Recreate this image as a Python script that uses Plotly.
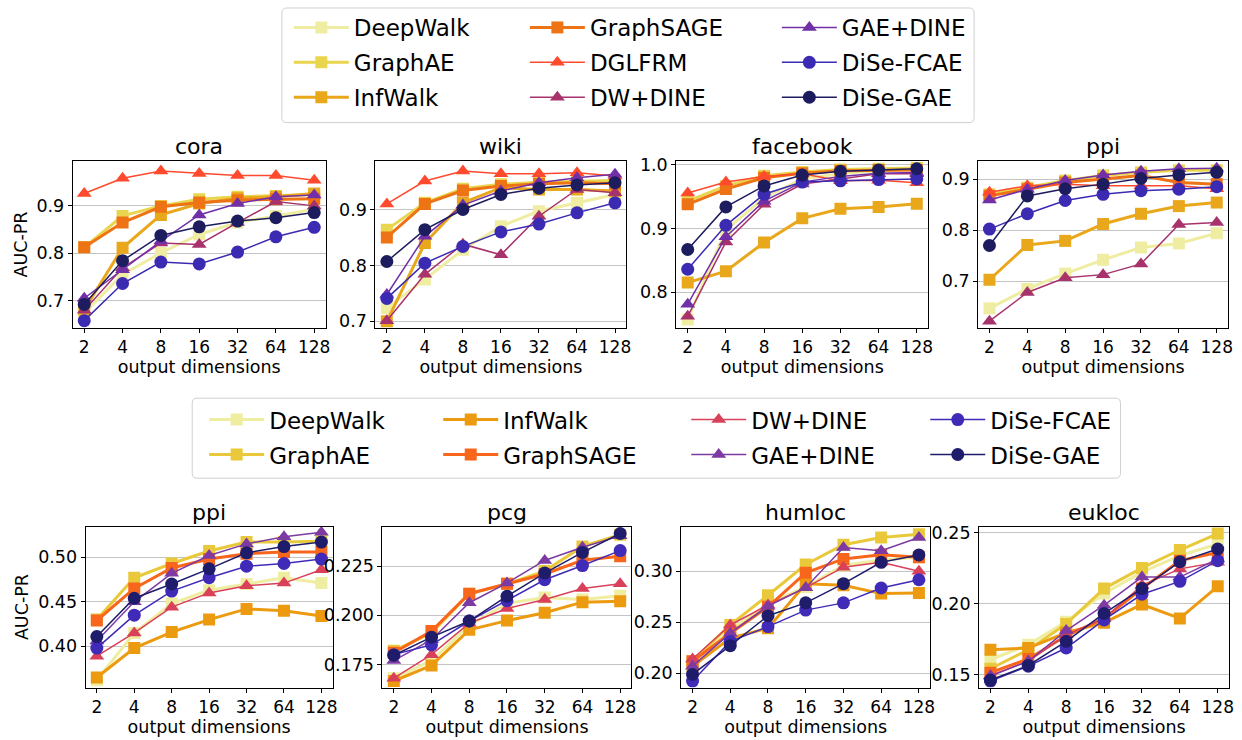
import plotly.graph_objects as go

dims = ["2", "4", "8", "16", "32", "64", "128"]

# ---------------- top row data ----------------
cora = {
    "DeepWalk":   [0.674, 0.755, 0.800, 0.839, 0.864, 0.878, 0.892],
    "GraphAE":    [0.812, 0.878, 0.899, 0.913, 0.918, 0.920, 0.923],
    "InfWalk":    [0.681, 0.811, 0.880, 0.904, 0.915, 0.918, 0.925],
    "GraphSAGE":  [0.812, 0.864, 0.897, 0.906, 0.911, 0.913, 0.914],
    "DGLFRM":     [0.925, 0.957, 0.972, 0.967, 0.963, 0.963, 0.953],
    "DW+DINE":    [0.680, 0.769, 0.821, 0.818, 0.864, 0.908, 0.899],
    "GAE+DINE":   [0.705, 0.765, 0.825, 0.880, 0.904, 0.918, 0.922],
    "DiSe-FCAE":  [0.658, 0.736, 0.781, 0.777, 0.802, 0.834, 0.854],
    "DiSe-GAE":   [0.692, 0.784, 0.837, 0.855, 0.867, 0.874, 0.885],
}
wiki = {
    "DeepWalk":   [0.724, 0.775, 0.828, 0.870, 0.897, 0.912, 0.927],
    "GraphAE":    [0.864, 0.912, 0.937, 0.945, 0.949, 0.951, 0.952],
    "InfWalk":    [0.700, 0.840, 0.912, 0.939, 0.936, 0.936, 0.933],
    "GraphSAGE":  [0.850, 0.910, 0.934, 0.942, 0.946, 0.948, 0.946],
    "DGLFRM":     [0.910, 0.951, 0.969, 0.964, 0.964, 0.966, 0.960],
    "DW+DINE":    [0.701, 0.784, 0.838, 0.819, 0.888, 0.936, 0.930],
    "GAE+DINE":   [0.748, 0.852, 0.908, 0.933, 0.948, 0.957, 0.963],
    "DiSe-FCAE":  [0.741, 0.804, 0.834, 0.860, 0.874, 0.894, 0.912],
    "DiSe-GAE":   [0.807, 0.864, 0.900, 0.927, 0.938, 0.944, 0.948],
}
facebook = {
    "DeepWalk":   [0.757, 0.898, 0.948, 0.978, 0.986, 0.991, 0.994],
    "GraphAE":    [0.943, 0.967, 0.983, 0.989, 0.993, 0.994, 0.995],
    "InfWalk":    [0.815, 0.833, 0.878, 0.916, 0.931, 0.934, 0.939],
    "GraphSAGE":  [0.938, 0.962, 0.980, 0.987, 0.991, 0.992, 0.992],
    "DGLFRM":     [0.956, 0.973, 0.982, 0.986, 0.975, 0.976, 0.972],
    "DW+DINE":    [0.762, 0.879, 0.938, 0.970, 0.978, 0.986, 0.986],
    "GAE+DINE":   [0.781, 0.887, 0.943, 0.973, 0.982, 0.987, 0.988],
    "DiSe-FCAE":  [0.836, 0.905, 0.954, 0.973, 0.975, 0.977, 0.978],
    "DiSe-GAE":   [0.867, 0.934, 0.967, 0.984, 0.990, 0.992, 0.994],
}
ppi_top = {
    "DeepWalk":   [0.647, 0.685, 0.715, 0.742, 0.766, 0.774, 0.794],
    "GraphAE":    [0.870, 0.883, 0.897, 0.907, 0.913, 0.917, 0.917],
    "InfWalk":    [0.703, 0.771, 0.779, 0.812, 0.832, 0.847, 0.854],
    "GraphSAGE":  [0.867, 0.880, 0.893, 0.900, 0.907, 0.893, 0.890],
    "DGLFRM":     [0.874, 0.887, 0.890, 0.887, 0.887, 0.887, 0.881],
    "DW+DINE":    [0.622, 0.678, 0.707, 0.713, 0.734, 0.811, 0.815],
    "GAE+DINE":   [0.859, 0.880, 0.897, 0.908, 0.915, 0.920, 0.921],
    "DiSe-FCAE":  [0.802, 0.832, 0.858, 0.870, 0.877, 0.880, 0.885],
    "DiSe-GAE":   [0.770, 0.867, 0.881, 0.890, 0.901, 0.908, 0.913],
}

# ---------------- bottom row data ----------------
ppi_bot = {
    "DeepWalk":   [0.362, 0.415, 0.448, 0.463, 0.470, 0.477, 0.471],
    "GraphAE":    [0.430, 0.477, 0.493, 0.507, 0.517, 0.517, 0.518],
    "InfWalk":    [0.365, 0.398, 0.416, 0.430, 0.442, 0.440, 0.434],
    "GraphSAGE":  [0.429, 0.465, 0.488, 0.498, 0.504, 0.506, 0.506],
    "DW+DINE":    [0.389, 0.415, 0.444, 0.460, 0.468, 0.471, 0.486],
    "GAE+DINE":   [0.406, 0.450, 0.482, 0.502, 0.515, 0.523, 0.528],
    "DiSe-FCAE":  [0.398, 0.435, 0.462, 0.477, 0.490, 0.493, 0.498],
    "DiSe-GAE":   [0.411, 0.454, 0.470, 0.487, 0.505, 0.512, 0.517],
}
pcg = {
    "DeepWalk":   [0.168, 0.177, 0.195, 0.206, 0.209, 0.208, 0.210],
    "GraphAE":    [0.182, 0.191, 0.211, 0.216, 0.2225, 0.235, 0.241],
    "InfWalk":    [0.1666, 0.1745, 0.1926, 0.1973, 0.2013, 0.2067, 0.2072],
    "GraphSAGE":  [0.181, 0.192, 0.211, 0.216, 0.221, 0.228, 0.230],
    "DW+DINE":    [0.168, 0.180, 0.196, 0.2035, 0.208, 0.2136, 0.216],
    "GAE+DINE":   [0.177, 0.1876, 0.2064, 0.2164, 0.2279, 0.2346, 0.2404],
    "DiSe-FCAE":  [0.180, 0.185, 0.1971, 0.2074, 0.2181, 0.2253, 0.2329],
    "DiSe-GAE":   [0.1797, 0.1889, 0.1971, 0.2097, 0.2215, 0.232, 0.2416],
}
humloc = {
    "DeepWalk":   [0.210, 0.242, 0.268, 0.2845, 0.3055, 0.311, 0.3136],
    "GraphAE":    [0.2117, 0.2472, 0.2764, 0.3065, 0.3259, 0.333, 0.3362],
    "InfWalk":    [0.2068, 0.2343, 0.244, 0.2877, 0.2861, 0.278, 0.2786],
    "GraphSAGE":  [0.2117, 0.2392, 0.265, 0.2984, 0.312, 0.3162, 0.3136],
    "DW+DINE":    [0.2139, 0.2472, 0.2667, 0.2838, 0.3039, 0.3087, 0.300],
    "GAE+DINE":   [0.2068, 0.2392, 0.2657, 0.2838, 0.3233, 0.320, 0.333],
    "DiSe-FCAE":  [0.1922, 0.2311, 0.2456, 0.2618, 0.2689, 0.2835, 0.2916],
    "DiSe-GAE":   [0.1987, 0.2269, 0.2563, 0.2689, 0.2877, 0.3087, 0.3159],
}
eukloc = {
    "DeepWalk":   [0.1605, 0.1709, 0.1872, 0.207, 0.2221, 0.2337, 0.2419],
    "GraphAE":    [0.154, 0.1674, 0.1856, 0.2105, 0.2251, 0.2377, 0.2493],
    "InfWalk":    [0.1674, 0.1686, 0.1795, 0.1865, 0.1993, 0.1895, 0.2121],
    "GraphSAGE":  [0.1512, 0.1609, 0.1772, 0.1895, 0.2105, 0.2302, 0.236],
    "DW+DINE":    [0.1493, 0.1593, 0.1779, 0.1895, 0.2128, 0.2244, 0.2291],
    "GAE+DINE":   [0.1488, 0.1593, 0.1809, 0.1988, 0.2186, 0.2186, 0.2314],
    "DiSe-FCAE":  [0.1453, 0.1558, 0.1686, 0.1884, 0.2065, 0.2156, 0.2302],
    "DiSe-GAE":   [0.146, 0.1563, 0.1733, 0.193, 0.2105, 0.2295, 0.2384],
}

top_methods = ["DeepWalk", "GraphAE", "InfWalk", "GraphSAGE", "DGLFRM",
               "DW+DINE", "GAE+DINE", "DiSe-FCAE", "DiSe-GAE"]
bot_methods = ["DeepWalk", "GraphAE", "InfWalk", "GraphSAGE",
               "DW+DINE", "GAE+DINE", "DiSe-FCAE", "DiSe-GAE"]

top_colors = {
    "DeepWalk": "#efeda2", "GraphAE": "#e9d54e", "InfWalk": "#e9a71b",
    "GraphSAGE": "#ee7314", "DGLFRM": "#ff4a2e", "DW+DINE": "#a8326c",
    "GAE+DINE": "#7130a8", "DiSe-FCAE": "#3b2ab2", "DiSe-GAE": "#1d1c5e",
}
bot_colors = {
    "DeepWalk": "#eeeda0", "GraphAE": "#e9c93a", "InfWalk": "#ec9b10",
    "GraphSAGE": "#f8661c", "DW+DINE": "#d9405a", "GAE+DINE": "#7d3aa2",
    "DiSe-FCAE": "#402bb8", "DiSe-GAE": "#1f1d6b",
}
symbols = {
    "DeepWalk": "square", "GraphAE": "square", "InfWalk": "square",
    "GraphSAGE": "square", "DGLFRM": "triangle-up", "DW+DINE": "triangle-up",
    "GAE+DINE": "triangle-up", "DiSe-FCAE": "circle", "DiSe-GAE": "circle",
}
thick = {"DeepWalk", "GraphAE", "InfWalk", "GraphSAGE"}

top_legend_of = {"DeepWalk": "legend", "GraphAE": "legend", "InfWalk": "legend",
                 "GraphSAGE": "legend2", "DGLFRM": "legend2", "DW+DINE": "legend2",
                 "GAE+DINE": "legend3", "DiSe-FCAE": "legend3", "DiSe-GAE": "legend3"}
bot_legend_of = {"DeepWalk": "legend4", "GraphAE": "legend4",
                 "InfWalk": "legend5", "GraphSAGE": "legend5",
                 "DW+DINE": "legend6", "GAE+DINE": "legend6",
                 "DiSe-FCAE": "legend7", "DiSe-GAE": "legend7"}

panels = [
    # name, data, methods, colors, legend map, x-domain, y-domain, y-range, tickvals, ticktext
    ("cora", cora, top_methods, top_colors, top_legend_of, [0.0588, 0.2633], [0.5595, 0.7878],
     [0.6425, 0.993], [0.7, 0.8, 0.9], ["0.7", "0.8", "0.9"]),
    ("wiki", wiki, top_methods, top_colors, top_legend_of, [0.3035, 0.5064], [0.5595, 0.7878],
     [0.688, 0.9866], [0.7, 0.8, 0.9], ["0.7", "0.8", "0.9"]),
    ("facebook", facebook, top_methods, top_colors, top_legend_of, [0.5467, 0.7504], [0.5595, 0.7878],
     [0.7436, 1.006], [0.8, 0.9, 1.0], ["0.8", "0.9", "1.0"]),
    ("ppi", ppi_top, top_methods, top_colors, top_legend_of, [0.7907, 0.9928], [0.5595, 0.7878],
     [0.6086, 0.935], [0.7, 0.8, 0.9], ["0.7", "0.8", "0.9"]),
    ("ppi", ppi_bot, bot_methods, bot_colors, bot_legend_of, [0.0692, 0.2689], [0.0676, 0.2878],
     [0.3537, 0.5344], [0.40, 0.45, 0.50], ["0.40", "0.45", "0.50"]),
    ("pcg", pcg, bot_methods, bot_colors, bot_legend_of, [0.3092, 0.5105], [0.0676, 0.2878],
     [0.16325, 0.2451], [0.175, 0.200, 0.225], ["0.175", "0.200", "0.225"]),
    ("humloc", humloc, bot_methods, bot_colors, bot_legend_of, [0.5507, 0.752], [0.0676, 0.2878],
     [0.1858, 0.3437], [0.20, 0.25, 0.30], ["0.20", "0.25", "0.30"]),
    ("eukloc", eukloc, bot_methods, bot_colors, bot_legend_of, [0.7915, 0.9936], [0.0676, 0.2878],
     [0.1407, 0.2542], [0.15, 0.20, 0.25], ["0.15", "0.20", "0.25"]),
]

FONT = "DejaVu Sans"
fig = go.Figure()
layout = dict(
    width=1242, height=740, margin=dict(l=0, r=0, t=0, b=0),
    paper_bgcolor="white", plot_bgcolor="white",
    font=dict(family=FONT, color="black", size=17),
    showlegend=True,
)
annotations = []

for i, (name, data, methods, colors, legmap, xd, yd, yr, tv, tt) in enumerate(panels):
    idx = i + 1
    xa = "x" if idx == 1 else f"x{idx}"
    ya = "y" if idx == 1 else f"y{idx}"
    first = i in (0, 4)
    for m in methods:
        fig.add_trace(go.Scatter(
            x=dims, y=data[m], name=m, mode="lines+markers",
            xaxis=xa, yaxis=ya,
            line=dict(color=colors[m], width=3 if m in thick else 1.5),
            marker=dict(symbol=symbols[m], size=13 if symbols[m] != "square" else 12,
                        color=colors[m]),
            showlegend=first, legend=legmap[m],
            legendgroup=("t_" if i < 4 else "b_") + m,
        ))
    layout[f"xaxis{idx}"] = dict(
        domain=xd, anchor=ya, type="category", range=[-0.3, 6.3],
        showline=True, linecolor="black", linewidth=1, mirror=True,
        ticks="outside", ticklen=4, tickcolor="black", showgrid=False,
        tickfont=dict(size=17),
        title=dict(text="output dimensions", font=dict(size=17.5), standoff=1),
    )
    layout[f"yaxis{idx}"] = dict(
        domain=yd, anchor=xa, range=yr, tickvals=tv, ticktext=tt,
        showline=True, linecolor="black", linewidth=1, mirror=True,
        ticks="outside", ticklen=4, tickcolor="black",
        showgrid=True, gridcolor="#c4c4c4", gridwidth=1, zeroline=False,
        tickfont=dict(size=17.5),
        title=dict(text="AUC-PR" if first else "", font=dict(size=17.5), standoff=4),
    )
    annotations.append(dict(
        text=name, xref="paper", yref="paper", x=(xd[0] + xd[1]) / 2, y=yd[1],
        xanchor="center", yanchor="bottom", showarrow=False, yshift=0,
        font=dict(size=22, family=FONT),
    ))

leg_common = dict(
    orientation="v", xanchor="left", yanchor="top", bgcolor="rgba(0,0,0,0)",
    borderwidth=0, font=dict(size=23, family=FONT, color="black"),
    itemwidth=55, tracegroupgap=2, traceorder="grouped",
    itemclick=False, itemdoubleclick=False,
)
top_leg_y = 1 - 0 / 740
bot_leg_y = 1 - 397 / 740
layout["legend"] = dict(leg_common, x=290 / 1242, y=top_leg_y)
layout["legend2"] = dict(leg_common, x=527 / 1242, y=top_leg_y)
layout["legend3"] = dict(leg_common, x=780 / 1242, y=top_leg_y)
layout["legend4"] = dict(leg_common, x=205 / 1242, y=bot_leg_y)
layout["legend5"] = dict(leg_common, x=440 / 1242, y=bot_leg_y)
layout["legend6"] = dict(leg_common, x=689 / 1242, y=bot_leg_y)
layout["legend7"] = dict(leg_common, x=929 / 1242, y=bot_leg_y)

W, H = 1242.0, 740.0

def rounded_box(x0, y0, x1, y1, r=5):
    def P(x, y):
        return f"{x / W:.6f},{1 - y / H:.6f}"
    path = (f"M {P(x0 + r, y0)} L {P(x1 - r, y0)} Q {P(x1, y0)} {P(x1, y0 + r)} "
            f"L {P(x1, y1 - r)} Q {P(x1, y1)} {P(x1 - r, y1)} "
            f"L {P(x0 + r, y1)} Q {P(x0, y1)} {P(x0, y1 - r)} "
            f"L {P(x0, y0 + r)} Q {P(x0, y0)} {P(x0 + r, y0)} Z")
    return dict(type="path", xref="paper", yref="paper", path=path,
                line=dict(color="#d0d0d0", width=1), fillcolor="white", layer="below")

layout["shapes"] = [rounded_box(283, 2, 978, 118), rounded_box(193, 397, 1125, 478)]
layout["annotations"] = annotations
fig.update_layout(**layout)
fig.write_html("out.html", config={"displayModeBar": False},
               post_script="document.body.style.margin='0';document.body.style.padding='0';")
